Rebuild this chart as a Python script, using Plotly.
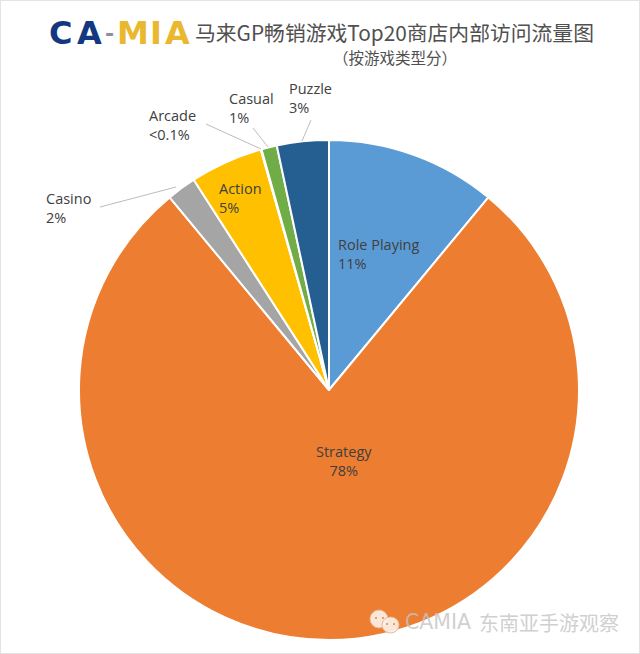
import plotly.graph_objects as go

W, H = 640, 654

categories = ["Role Playing", "Strategy", "Casino", "Action", "Arcade", "Casual", "Puzzle"]
values = [11.0, 78.0, 1.9, 4.7, 0.05, 1.0, 3.35]
value_labels = ["11%", "78%", "2%", "5%", "<0.1%", "1%", "3%"]
colors = ["#5B9BD5", "#ED7D31", "#A5A5A5", "#FFC000", "#4472C4", "#70AD47", "#255E91"]

title_text = "马来GP畅销游戏Top20商店内部访问流量图"
subtitle_text = "（按游戏类型分）"
watermark_latin = "CAMIA"
watermark_cjk = "东南亚手游观察"

# label anchor in image pixels: left edge (or centre), vertical centre of the block
label_pos = {
    "Role Playing": (338, 254, "left"),
    "Strategy": (344, 461, "center"),
    "Casino": (46, 208, "left"),
    "Action": (219, 198, "left"),
    "Arcade": (149, 125, "left"),
    "Casual": (229, 108, "left"),
    "Puzzle": (289, 98, "left"),
}
leaders = [
    ((100, 207), (176, 187)),
    ((206, 124), (261, 149)),
    ((253, 128), (268, 147)),
    ((311, 120), (302, 141)),
]
logo_letters = [
    ("C", 60, "#12387F", 32), ("A", 89, "#12387F", 32), ("-", 109, "#8A8F99", 22),
    ("M", 133, "#E9B82E", 32), ("I", 156, "#E9B82E", 32), ("A", 177, "#E9B82E", 32),
]
icon_bubbles = [(370, 610, 388, 628), (382, 617, 399, 633)]
icon_dots = [(376, 618), (383, 618), (387, 624), (394, 624)]


def px(x):
    return x / W


def py(y):
    return 1 - y / H


fig = go.Figure(go.Pie(
    labels=categories, values=values, sort=False, direction="clockwise", rotation=0,
    marker=dict(colors=colors, line=dict(color="white", width=2)),
    textinfo="none", hoverinfo="label+percent", showlegend=False,
    domain=dict(x=[px(79), px(579)], y=[py(640), py(140)]),
))

annotations = []
for cat, val in zip(categories, value_labels):
    x, y, align = label_pos[cat]
    annotations.append(dict(
        x=px(x), y=py(y), xref="paper", yref="paper", showarrow=False,
        text=f"{cat}<br>{val}", align=align, xanchor=align, yanchor="middle",
        xshift=-2 if align == "left" else 0,
        font=dict(family="Open Sans, Noto Sans", size=14.5, color="#404040", weight=500),
    ))
for ch, x, col, size in logo_letters:
    annotations.append(dict(
        x=px(x), y=py(33), xref="paper", yref="paper", showarrow=False, text=f"<b>{ch}</b>",
        xanchor="center", yanchor="middle",
        font=dict(family="DejaVu Sans", size=size, color=col),
    ))
annotations.append(dict(
    x=px(394), y=py(32), xref="paper", yref="paper", showarrow=False, text=title_text,
    xanchor="center", yanchor="middle",
    font=dict(family="Noto Sans CJK SC", size=20.8, color="#505050"),
))
annotations.append(dict(
    x=px(395), y=py(57), xref="paper", yref="paper", showarrow=False, text=subtitle_text,
    xanchor="center", yanchor="middle",
    font=dict(family="Noto Sans CJK SC", size=15.5, color="#505050"),
))
annotations.append(dict(
    x=px(403), y=py(622), xref="paper", yref="paper", showarrow=False, text=watermark_latin,
    xanchor="left", yanchor="middle",
    font=dict(family="DejaVu Sans", size=20.5, color="rgba(195,195,195,0.8)"),
))
annotations.append(dict(
    x=px(621), y=py(622), xref="paper", yref="paper", showarrow=False, text=watermark_cjk,
    xanchor="right", yanchor="middle",
    font=dict(family="Noto Sans CJK SC", size=20, color="rgba(195,195,195,0.8)"),
))

shapes = [dict(type="line", xref="paper", yref="paper",
               x0=px(a[0]), y0=py(a[1]), x1=px(b[0]), y1=py(b[1]),
               line=dict(color="#A6A6A6", width=0.75)) for a, b in leaders]
shapes.append(dict(type="rect", xref="paper", yref="paper", x0=0, y0=0, x1=1, y1=1,
                   line=dict(color="#E4E4E4", width=2)))
# WeChat-style watermark icon
for (x0, y0, x1, y1) in icon_bubbles:
    shapes.append(dict(type="circle", xref="paper", yref="paper",
                       x0=px(x0), y0=py(y0), x1=px(x1), y1=py(y1),
                       fillcolor="rgba(252,240,230,0.92)", line=dict(color="#E8B898", width=1)))
for (cx, cy) in icon_dots:
    shapes.append(dict(type="circle", xref="paper", yref="paper",
                       x0=px(cx - 1), y0=py(cy - 1), x1=px(cx + 1), y1=py(cy + 1),
                       fillcolor="#D98A5A", line=dict(width=0)))

fig.update_layout(
    width=W, height=H, margin=dict(l=0, r=0, t=0, b=0),
    paper_bgcolor="white", plot_bgcolor="white",
    annotations=annotations, shapes=shapes,
)
fig.write_html("out.html", config={"displayModeBar": False},
               post_script="document.body.style.margin='0';document.body.style.overflow='hidden';")
